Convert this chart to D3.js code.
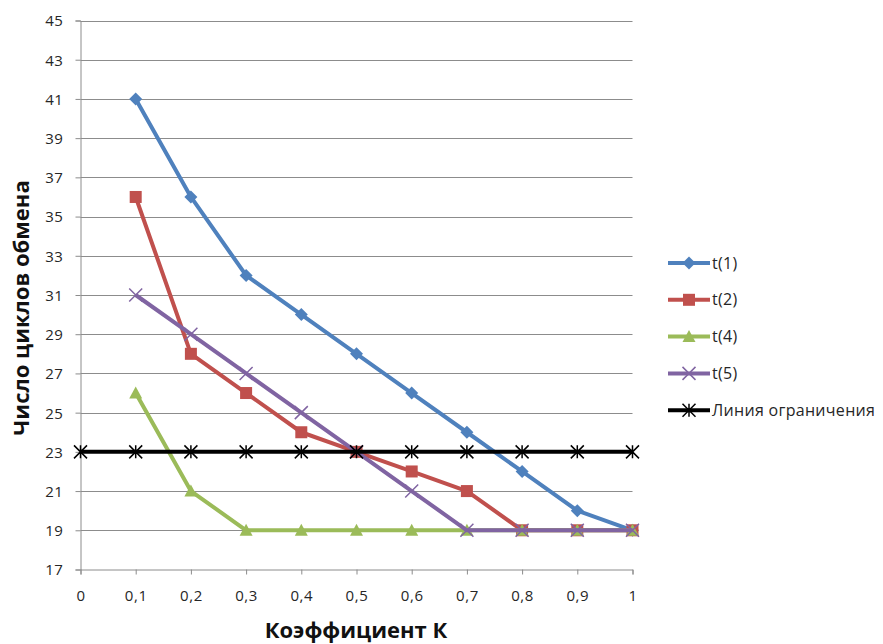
<!DOCTYPE html>
<html>
<head>
<meta charset="utf-8">
<script src="https://cdn.jsdelivr.net/npm/d3@7"></script>
<style>
  html, body { margin: 0; padding: 0; background: #fff; }
  svg { display: block; font-family: "Open Sans", "Liberation Sans", sans-serif; }
</style>
</head>
<body>
<svg id="chart" width="883" height="644"></svg>
<script>
// Coefficient K values and exchange-cycle counts per series
const kValues = [0.1, 0.2, 0.3, 0.4, 0.5, 0.6, 0.7, 0.8, 0.9, 1.0];
const t1 = [41, 36, 32, 30, 28, 26, 24, 22, 20, 19];
const t2 = [36, 28, 26, 24, 23, 22, 21, 19, 19, 19];
const t4 = [26, 21, 19, 19, 19, 19, 19, 19, 19, 19];
const t5 = [31, 29, 27, 25, 23, 21, 19, 19, 19, 19];
const limitK = [0, 0.1, 0.2, 0.3, 0.4, 0.5, 0.6, 0.7, 0.8, 0.9, 1.0];
const limitValues = [23, 23, 23, 23, 23, 23, 23, 23, 23, 23, 23];
const xTicks = [0, 0.1, 0.2, 0.3, 0.4, 0.5, 0.6, 0.7, 0.8, 0.9, 1.0];
const yTicks = [17, 19, 21, 23, 25, 27, 29, 31, 33, 35, 37, 39, 41, 43, 45];
const seriesNames = ["t(1)", "t(2)", "t(4)", "t(5)", "Линия ограничения"];

const series = [
  { name: seriesNames[0], xs: kValues, ys: t1, color: "#4F81BD", marker: "diamond" },
  { name: seriesNames[1], xs: kValues, ys: t2, color: "#C0504D", marker: "square" },
  { name: seriesNames[2], xs: kValues, ys: t4, color: "#9BBB59", marker: "triangle" },
  { name: seriesNames[3], xs: kValues, ys: t5, color: "#8064A2", marker: "cross" },
  { name: seriesNames[4], xs: limitK, ys: limitValues, color: "#000000", marker: "star" }
];

const svg = d3.select("#chart");
const plot = { left: 80.5, right: 632.5, top: 20.5, bottom: 569.5 };

const x = d3.scaleLinear().domain([0, 1]).range([plot.left, plot.right]);
const y = d3.scaleLinear().domain([17, 45]).range([plot.bottom, plot.top]);

// horizontal gridlines
svg.append("g")
  .selectAll("line")
  .data(yTicks.filter(v => v !== 17))
  .join("line")
  .attr("x1", plot.left).attr("x2", plot.right)
  .attr("y1", d => Math.round(y(d)) + 0.5).attr("y2", d => Math.round(y(d)) + 0.5)
  .attr("stroke", "#8c8c8c").attr("stroke-width", 1);

const fmt = d => d === 0 ? "0" : (d === 1 ? "1" : String(d).replace(".", ","));

// y axis
const yAxis = svg.append("g")
  .attr("transform", `translate(${plot.left},0)`)
  .call(d3.axisLeft(y).tickValues(yTicks).tickSize(5).tickPadding(12).tickFormat(d3.format("d")));
// x axis
const xAxis = svg.append("g")
  .attr("transform", `translate(0,${plot.bottom})`)
  .call(d3.axisBottom(x).tickValues(xTicks).tickSize(5).tickPadding(16).tickFormat(fmt));

[yAxis, xAxis].forEach(ax => {
  ax.select(".domain").attr("stroke", "#8c8c8c");
  ax.selectAll(".tick line").attr("stroke", "#8c8c8c");
  ax.selectAll(".tick text")
    .attr("fill", "#262626")
    .style("font-size", "15px")
    .style("letter-spacing", "0.6px")
    .style("font-family", "'Open Sans', 'Liberation Sans', sans-serif");
});
yAxis.selectAll(".tick text").attr("dy", "0.36em");

// marker shapes
function drawMarker(g, type, color, size) {
  const s = size;
  if (type === "diamond") {
    g.append("path").attr("d", `M0,${-s/2}L${s/2},0L0,${s/2}L${-s/2},0Z`).attr("fill", color);
  } else if (type === "square") {
    g.append("rect").attr("x", -s/2 + 0.5).attr("y", -s/2 + 0.5).attr("width", s - 1).attr("height", s - 1).attr("fill", color);
  } else if (type === "triangle") {
    g.append("path").attr("d", `M0,${-s/2}L${s/2},${s/2 - 1}L${-s/2},${s/2 - 1}Z`).attr("fill", color);
  } else if (type === "cross") {
    const h = s / 2;
    g.append("path").attr("d", `M${-h},${-h}L${h},${h}M${-h},${h}L${h},${-h}`)
      .attr("stroke", color).attr("stroke-width", 1.5).attr("fill", "none");
  } else if (type === "star") {
    const h = s / 2;
    g.append("path").attr("d", `M${-h},${-h}L${h},${h}M${-h},${h}L${h},${-h}M0,${-h}L0,${h}`)
      .attr("stroke", color).attr("stroke-width", 1.5).attr("fill", "none");
  }
}

const line = d3.line().x(d => x(d[0])).y(d => y(d[1]));

series.forEach(s => {
  const pts = s.xs.map((k, i) => [k, s.ys[i]]);
  const g = svg.append("g");
  g.append("path")
    .attr("d", line(pts))
    .attr("fill", "none")
    .attr("stroke", s.color)
    .attr("stroke-width", 4)
    .attr("stroke-linejoin", "round");
  pts.forEach(p => {
    const mg = g.append("g").attr("transform", `translate(${x(p[0])},${y(p[1])})`);
    drawMarker(mg, s.marker, s.color, 13);
  });
});

// legend
const legend = svg.append("g");
series.forEach((s, i) => {
  const yy = 263 + i * 36.8;
  const lg = legend.append("g").attr("transform", `translate(0,${yy})`);
  lg.append("line").attr("x1", 668).attr("x2", 710).attr("y1", 0).attr("y2", 0)
    .attr("stroke", s.color).attr("stroke-width", 4);
  const mg = lg.append("g").attr("transform", "translate(689,0)");
  drawMarker(mg, s.marker, s.color, 13);
  lg.append("text").attr("x", 712).attr("y", 0).attr("dy", "0.35em")
    .attr("fill", "#262626").style("font-size", "16px")
    .style("letter-spacing", "0.3px")
    .text(s.name);
});

// axis titles
svg.append("text")
  .attr("transform", `translate(29,308) rotate(-90)`)
  .attr("text-anchor", "middle")
  .style("font-size", "22px").style("font-weight", "bold")
  .attr("fill", "#111")
  .text("Число циклов обмена");

svg.append("text")
  .attr("x", 356)
  .attr("y", 638)
  .attr("text-anchor", "middle")
  .style("font-size", "22px").style("font-weight", "bold")
  .attr("fill", "#111")
  .text("Коэффициент К");
</script>
</body>
</html>
